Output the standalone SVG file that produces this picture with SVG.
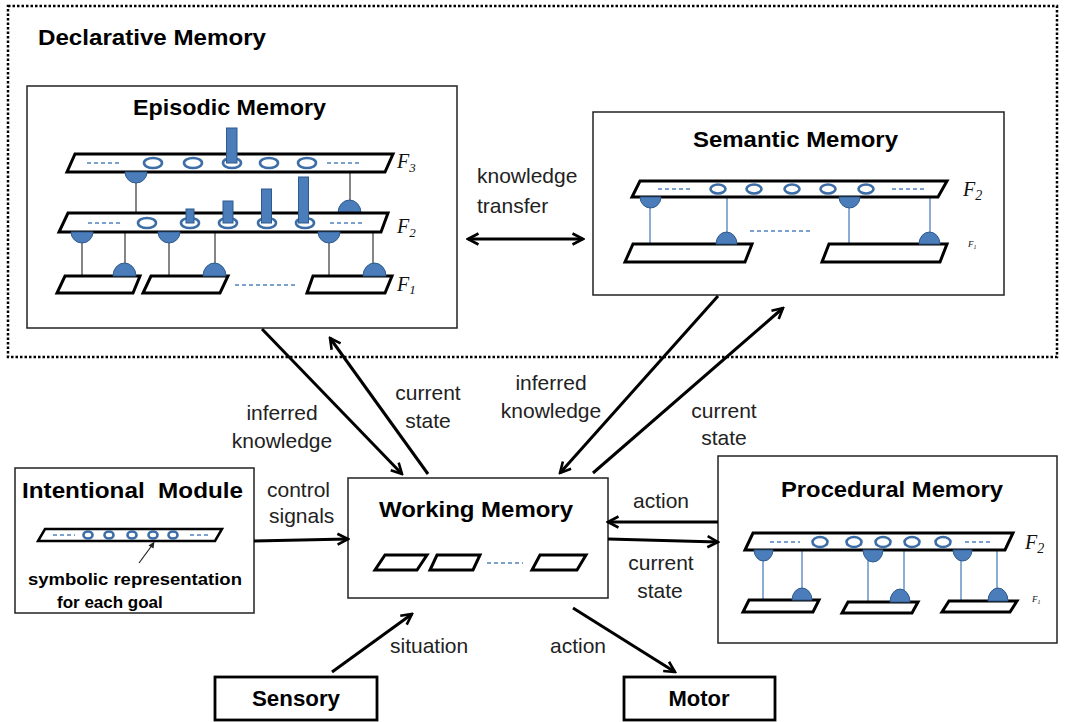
<svg xmlns="http://www.w3.org/2000/svg" width="1068" height="722" viewBox="0 0 1068 722">
<defs>
<style>
.box{fill:#fff;stroke:#222;stroke-width:1.5}
.tbox{fill:#fff;stroke:#000;stroke-width:2.8}
.layer{fill:#fff;stroke:#000;stroke-width:3;stroke-linejoin:miter}
.ring{fill:#fff;stroke:#3C6DA6;stroke-width:2.6}
.bar{fill:#4A7DBA;stroke:#2F5A8C;stroke-width:1}
.dome{fill:#4A7DBA;stroke:#2F5A8C;stroke-width:1}
.dash{stroke:#4F81BD;stroke-width:1.3;stroke-dasharray:4 3;fill:none}
.gl{stroke:#444;stroke-width:1.3}
.bl{stroke:#4F81BD;stroke-width:1.3}
.title{font-family:"Liberation Sans",Arial,sans-serif;font-weight:bold;font-size:22px;fill:#000}
.small{font-size:17px}
.lbl{font-family:"Liberation Sans",Arial,sans-serif;font-size:21px;fill:#222}
.fl{font-family:"Liberation Serif","Times New Roman",serif;font-style:italic;font-size:20px;fill:#111}
.tiny{font-size:9px}
.arr{stroke:#000;stroke-width:3;fill:none;marker-end:url(#ah)}
</style>
<marker id="ah" viewBox="0 0 14 14" refX="12" refY="7" markerWidth="14" markerHeight="14" markerUnits="userSpaceOnUse" orient="auto-start-reverse">
<path d="M1.5,1.5 L12,7 L1.5,12.5" fill="none" stroke="#000" stroke-width="2.6"/>
</marker>
</defs>
<rect width="1068" height="722" fill="#fff"/>

<g id="declarative">
<rect x="8" y="6" width="1049" height="351" fill="none" stroke="#000" stroke-width="2.5" stroke-dasharray="2.5 2"/>
<text class="title" x="38" y="45" textLength="228" lengthAdjust="spacingAndGlyphs">Declarative Memory</text>
</g>

<g id="episodic">
<rect class="box" x="27" y="86" width="430" height="242"/>
<text class="title" x="229.5" y="115" text-anchor="middle" textLength="193" lengthAdjust="spacingAndGlyphs">Episodic Memory</text>
<line class="gl" x1="136" y1="180" x2="136" y2="213"/>
<line class="gl" x1="350" y1="172" x2="350" y2="205"/>
<polygon class="layer" points="75,154 393,154 385,172 67,172"/>
<line class="dash" x1="87" y1="163" x2="120" y2="163"/>
<line class="dash" x1="327" y1="163" x2="360" y2="163"/>
<ellipse class="ring" cx="153" cy="163" rx="9" ry="5"/>
<ellipse class="ring" cx="193" cy="163" rx="9" ry="5"/>
<ellipse class="ring" cx="232" cy="163" rx="9" ry="5"/>
<ellipse class="ring" cx="269" cy="163" rx="9" ry="5"/>
<ellipse class="ring" cx="307" cy="163" rx="9" ry="5"/>
<rect class="bar" x="226.5" y="128" width="10.5" height="35"/>
<path class="dome" d="M125,172 A11,11 0 0 0 147,172 Z"/>
<path class="dome" d="M338,213 A11.5,13 0 0 1 361,213 Z"/>
<line class="gl" x1="82" y1="240" x2="82" y2="276"/>
<line class="gl" x1="169" y1="240" x2="169" y2="276"/>
<line class="gl" x1="329" y1="240" x2="329" y2="276"/>
<line class="gl" x1="125" y1="232" x2="125" y2="266"/>
<line class="gl" x1="215" y1="232" x2="215" y2="266"/>
<line class="gl" x1="373" y1="232" x2="373" y2="266"/>
<polygon class="layer" points="68,213 388,213 381,232 59,232"/>
<line class="dash" x1="88" y1="223" x2="120" y2="223"/>
<line class="dash" x1="330" y1="223" x2="365" y2="223"/>
<ellipse class="ring" cx="147" cy="223" rx="9" ry="5"/>
<ellipse class="ring" cx="190" cy="223" rx="9" ry="5"/>
<ellipse class="ring" cx="228" cy="223" rx="9" ry="5"/>
<ellipse class="ring" cx="267" cy="223" rx="9" ry="5"/>
<ellipse class="ring" cx="305" cy="223" rx="9" ry="5"/>
<rect class="bar" x="186" y="209" width="8" height="14"/>
<rect class="bar" x="223" y="201" width="10" height="22"/>
<rect class="bar" x="261.5" y="189" width="10" height="34"/>
<rect class="bar" x="298.5" y="177" width="10" height="46"/>
<path class="dome" d="M71,232 A11,11 0 0 0 93,232 Z"/>
<path class="dome" d="M158,232 A11,11 0 0 0 180,232 Z"/>
<path class="dome" d="M318,232 A11,11 0 0 0 340,232 Z"/>
<polygon class="layer" points="65,276 140,276 133,293 57,293"/>
<polygon class="layer" points="151,276 228,276 220,293 143,293"/>
<polygon class="layer" points="313,276 392,276 385,293 307,293"/>
<path class="dome" d="M113,276 A11.5,13 0 0 1 136,276 Z"/>
<path class="dome" d="M203,276 A11.5,13 0 0 1 226,276 Z"/>
<path class="dome" d="M363,276 A11.5,13 0 0 1 386,276 Z"/>
<line class="dash" x1="235" y1="285" x2="297" y2="285"/>
<text class="fl" x="397" y="168">F<tspan font-size="13" dy="4">3</tspan></text>
<text class="fl" x="397" y="233">F<tspan font-size="13" dy="4">2</tspan></text>
<text class="fl" x="397" y="291">F<tspan font-size="13" dy="3">1</tspan></text>
</g>

<g id="semantic">
<rect class="box" x="593" y="112" width="411" height="183"/>
<text class="title" x="795.5" y="147" text-anchor="middle" textLength="205" lengthAdjust="spacingAndGlyphs">Semantic Memory</text>
<line class="bl" x1="650" y1="205" x2="650" y2="244"/>
<line class="bl" x1="849" y1="205" x2="849" y2="244"/>
<line class="bl" x1="727" y1="197" x2="727" y2="234"/>
<line class="bl" x1="930" y1="197" x2="930" y2="234"/>
<polygon class="layer" points="640,181 947,181 938,197 632,197"/>
<line class="dash" x1="658" y1="189" x2="692" y2="189"/>
<line class="dash" x1="892" y1="189" x2="925" y2="189"/>
<ellipse class="ring" cx="718" cy="189" rx="7.5" ry="4.5"/>
<ellipse class="ring" cx="754" cy="189" rx="7.5" ry="4.5"/>
<ellipse class="ring" cx="792" cy="189" rx="7.5" ry="4.5"/>
<ellipse class="ring" cx="828" cy="189" rx="7.5" ry="4.5"/>
<ellipse class="ring" cx="866" cy="189" rx="7.5" ry="4.5"/>
<path class="dome" d="M640,197 A10.5,11 0 0 0 661,197 Z"/>
<path class="dome" d="M839,197 A10.5,11 0 0 0 860,197 Z"/>
<polygon class="layer" points="633,244 752,244 745,262 625,262"/>
<polygon class="layer" points="829,244 947,244 940,262 822,262"/>
<path class="dome" d="M716,244 A10.5,12 0 0 1 737,244 Z"/>
<path class="dome" d="M919,244 A10.5,12 0 0 1 940,244 Z"/>
<line class="dash" x1="750" y1="231" x2="810" y2="231"/>
<text class="fl" x="963" y="196">F<tspan font-size="14" dy="4">2</tspan></text>
<text class="fl tiny" x="968" y="247">F<tspan font-size="6" dy="2">1</tspan></text>
</g>

<g id="intentional">
<rect class="box" x="15" y="468" width="239" height="145"/>
<text class="title" x="132.5" y="498" text-anchor="middle" textLength="221" lengthAdjust="spacingAndGlyphs" xml:space="preserve">Intentional  Module</text>
<polygon class="layer" points="45,529 222,529 215,541 38,541" style="stroke-width:2.5"/>
<line class="dash" x1="53" y1="535" x2="75" y2="535"/>
<line class="dash" x1="190" y1="535" x2="208" y2="535"/>
<ellipse class="ring" cx="88" cy="535" rx="4.5" ry="3.5"/>
<ellipse class="ring" cx="109" cy="535" rx="4.5" ry="3.5"/>
<ellipse class="ring" cx="132" cy="535" rx="4.5" ry="3.5"/>
<ellipse class="ring" cx="153" cy="535" rx="4.5" ry="3.5"/>
<ellipse class="ring" cx="173" cy="535" rx="4.5" ry="3.5"/>
<line x1="139" y1="563" x2="153" y2="544" stroke="#222" stroke-width="1.2"/>
<path d="M148.5,545.5 L154.5,541.5 L153.5,548.5 Z" fill="#222"/>
<text class="title small" x="135" y="585" text-anchor="middle" textLength="214" lengthAdjust="spacingAndGlyphs">symbolic representation</text>
<text class="title small" x="57" y="608">for each goal</text>
</g>

<g id="working">
<rect class="box" x="348" y="478" width="260" height="120"/>
<text class="title" x="476" y="517" text-anchor="middle" textLength="194" lengthAdjust="spacingAndGlyphs">Working Memory</text>
<polygon class="layer" points="385,555 427,555 417,570 375,570"/>
<polygon class="layer" points="437,555 480,555 473,570 430,570"/>
<polygon class="layer" points="540,555 586,555 577,570 532,570"/>
<line class="dash" x1="487" y1="563" x2="523" y2="563"/>
</g>

<g id="procedural">
<rect class="box" x="718" y="456" width="339" height="187"/>
<text class="title" x="892" y="497" text-anchor="middle" textLength="222" lengthAdjust="spacingAndGlyphs">Procedural Memory</text>
<line class="bl" x1="763" y1="558" x2="763" y2="601"/>
<line class="bl" x1="868" y1="560" x2="868" y2="606"/>
<line class="bl" x1="961" y1="558" x2="961" y2="601"/>
<line class="bl" x1="802" y1="550" x2="802" y2="590"/>
<line class="bl" x1="904" y1="550" x2="904" y2="592"/>
<line class="bl" x1="997" y1="550" x2="997" y2="590"/>
<polygon class="layer" points="753,533 1013,533 1005,550 745,550"/>
<line class="dash" x1="770" y1="542" x2="800" y2="542"/>
<line class="dash" x1="965" y1="542" x2="993" y2="542"/>
<ellipse class="ring" cx="820" cy="542" rx="7.5" ry="5"/>
<ellipse class="ring" cx="854" cy="542" rx="7.5" ry="5"/>
<ellipse class="ring" cx="883" cy="542" rx="7.5" ry="5"/>
<ellipse class="ring" cx="912" cy="542" rx="7.5" ry="5"/>
<ellipse class="ring" cx="943" cy="542" rx="7.5" ry="5"/>
<path class="dome" d="M754,550 A9.5,11 0 0 0 773,550 Z"/>
<path class="dome" d="M863,550 A10,12 0 0 0 883,550 Z"/>
<path class="dome" d="M953,550 A9.5,11 0 0 0 972,550 Z"/>
<polygon class="layer" points="749,600 819,600 813,612 743,612"/>
<polygon class="layer" points="848,602 918,602 912,613 842,613"/>
<polygon class="layer" points="949,601 1017,601 1010,612 942,612"/>
<path class="dome" d="M792,600 A10,12 0 0 1 812,600 Z"/>
<path class="dome" d="M890,602 A10,13 0 0 1 910,602 Z"/>
<path class="dome" d="M988,601 A10,13 0 0 1 1008,601 Z"/>
<text class="fl" x="1025" y="549">F<tspan font-size="14" dy="4">2</tspan></text>
<text class="fl tiny" x="1032" y="602">F<tspan font-size="6" dy="2">1</tspan></text>
</g>

<g id="sensory">
<rect class="tbox" x="215" y="677" width="162" height="43"/>
<text class="title" x="296" y="706" text-anchor="middle" textLength="88" lengthAdjust="spacingAndGlyphs">Sensory</text>
</g>

<g id="motor">
<rect class="tbox" x="624" y="677" width="151" height="43"/>
<text class="title" x="699" y="706" text-anchor="middle">Motor</text>
</g>

<g id="connectors">
<line class="arr" x1="262" y1="329" x2="402" y2="474"/>
<line class="arr" x1="428" y1="474" x2="330" y2="338"/>
<line class="arr" x1="718" y1="296" x2="560" y2="473"/>
<line class="arr" x1="593" y1="473" x2="783" y2="308"/>
<line class="arr" x1="468" y1="239" x2="583" y2="239" style="marker-start:url(#ah)"/>
<line class="arr" x1="254" y1="541" x2="348" y2="539"/>
<line class="arr" x1="718" y1="522" x2="608" y2="522"/>
<line class="arr" x1="608" y1="539" x2="718" y2="542"/>
<line class="arr" x1="332" y1="672" x2="412" y2="614"/>
<line class="arr" x1="573" y1="608" x2="675" y2="672"/>
</g>

<g id="labels">
<text class="lbl" x="282" y="420" text-anchor="middle">inferred</text>
<text class="lbl" x="282" y="448" text-anchor="middle">knowledge</text>
<text class="lbl" x="428" y="400" text-anchor="middle">current</text>
<text class="lbl" x="428" y="428" text-anchor="middle">state</text>
<text class="lbl" x="551" y="390" text-anchor="middle">inferred</text>
<text class="lbl" x="551" y="418" text-anchor="middle">knowledge</text>
<text class="lbl" x="724" y="418" text-anchor="middle">current</text>
<text class="lbl" x="724" y="445" text-anchor="middle">state</text>
<text class="lbl" x="477" y="183">knowledge</text>
<text class="lbl" x="477" y="213">transfer</text>
<text class="lbl" x="267" y="497">control</text>
<text class="lbl" x="269" y="523">signals</text>
<text class="lbl" x="633" y="508">action</text>
<text class="lbl" x="661" y="570" text-anchor="middle">current</text>
<text class="lbl" x="660" y="598" text-anchor="middle">state</text>
<text class="lbl" x="390" y="653">situation</text>
<text class="lbl" x="550" y="653">action</text>
</g>
</svg>
